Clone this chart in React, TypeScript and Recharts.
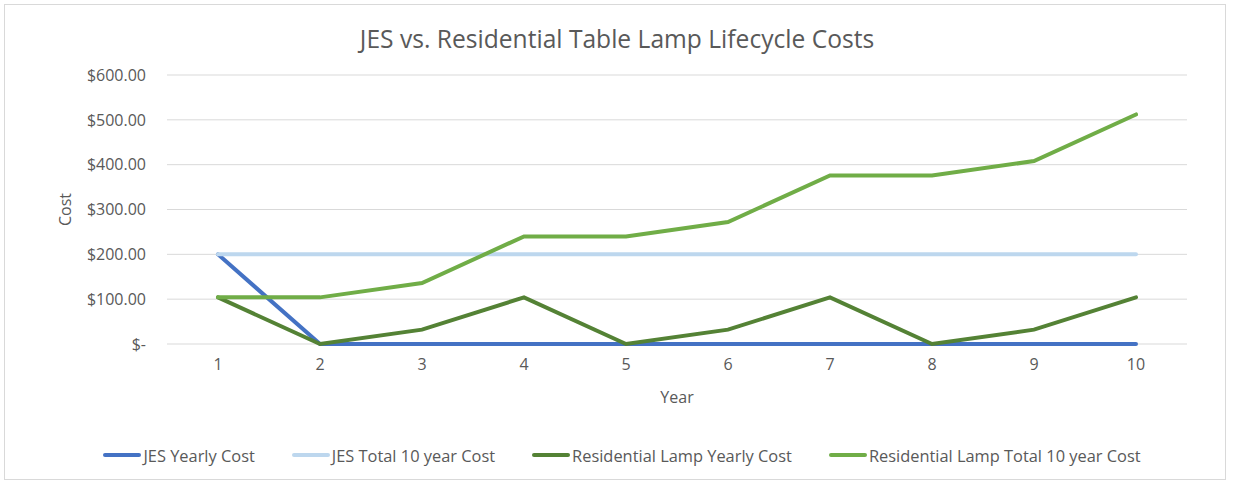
import React from 'react';
import {
  LineChart,
  Line,
  XAxis,
  YAxis,
  CartesianGrid,
  Legend,
} from 'recharts';

const years = ['1', '2', '3', '4', '5', '6', '7', '8', '9', '10'];
const jesYearly = [200, 0, 0, 0, 0, 0, 0, 0, 0, 0];
const jesTotal = [200, 200, 200, 200, 200, 200, 200, 200, 200, 200];
const lampYearly = [104, 0, 32, 104, 0, 32, 104, 0, 32, 104];
const lampTotal = [104, 104, 136, 240, 240, 272, 376, 376, 408, 512];
const yTicks = [0, 100, 200, 300, 400, 500, 600];

const series = [
  { key: 'jesYearly', name: 'JES Yearly Cost', color: '#4472C4' },
  { key: 'jesTotal', name: 'JES Total 10 year Cost', color: '#BDD7EE' },
  { key: 'lampYearly', name: 'Residential Lamp Yearly Cost', color: '#548235' },
  { key: 'lampTotal', name: 'Residential Lamp Total 10 year Cost', color: '#70AD47' },
];

const data = years.map((year, i) => ({
  year,
  jesYearly: jesYearly[i],
  jesTotal: jesTotal[i],
  lampYearly: lampYearly[i],
  lampTotal: lampTotal[i],
}));

const FONT = '"Open Sans", sans-serif';
const TEXT = '#595959';

const formatCost = (v: number) => (v === 0 ? '$-' : `$${v.toFixed(2)}`);

const LegendRow = () => (
  <div
    style={{
      display: 'flex',
      justifyContent: 'center',
      gap: 37,
      fontFamily: FONT,
      fontSize: 16.4,
      color: TEXT,
      height: 30,
      boxSizing: 'border-box',
      paddingBottom: 6,
      alignItems: 'center',
    }}
  >
    {series.map((s) => (
      <div key={s.key} style={{ display: 'flex', alignItems: 'center' }}>
        <span
          style={{
            display: 'inline-block',
            width: 38,
            height: 4,
            borderRadius: 2,
            background: s.color,
            marginRight: 2,
          }}
        />
        {s.name}
      </div>
    ))}
  </div>
);

export default function App() {
  return (
    <div
      style={{
        position: 'absolute',
        left: 0,
        top: 0,
        width: 1234,
        height: 483,
        background: '#fff',
      }}
    >
      <div
        style={{
          position: 'absolute',
          left: 4,
          top: 4,
          width: 1220,
          height: 474,
          border: '1px solid #d9d9d9',
        }}
      />
      <div
        style={{
          position: 'absolute',
          left: 0,
          top: 22,
          width: 1234,
          textAlign: 'center',
          fontFamily: FONT,
          fontSize: 24.6,
          color: TEXT,
        }}
      >
        JES vs. Residential Table Lamp Lifecycle Costs
      </div>
      <div style={{ position: 'absolute', left: 0, top: 0 }}>
        <LineChart
          width={1234}
          height={483}
          data={data}
          margin={{ top: 75, right: 47, bottom: 10, left: 57 }}
        >
          <CartesianGrid vertical={false} stroke="#d9d9d9" />
          <XAxis
            dataKey="year"
            padding={{ left: 51, right: 51 }}
            axisLine={false}
            tickLine={false}
            tickSize={0}
            tickMargin={15}
            height={99}
            tick={{ fill: TEXT, fontSize: 16, fontFamily: FONT }}
            label={{
              value: 'Year',
              position: 'insideTop',
              offset: 48,
              style: { fill: TEXT, fontSize: 16, fontFamily: FONT },
            }}
          />
          <YAxis
            width={110}
            domain={[0, 600]}
            ticks={yTicks}
            tickFormatter={formatCost}
            axisLine={false}
            tickLine={false}
            tickSize={0}
            tickMargin={21}
            tick={{ fill: TEXT, fontSize: 16, fontFamily: FONT }}
            label={{
              value: 'Cost',
              angle: -90,
              position: 'insideLeft',
              offset: 8,
              style: { fill: TEXT, fontSize: 16, fontFamily: FONT, textAnchor: 'middle' },
            }}
          />
          <Legend verticalAlign="bottom" content={() => <LegendRow />} />
          {series.map((s) => (
            <Line
              key={s.key}
              type="linear"
              dataKey={s.key}
              name={s.name}
              stroke={s.color}
              strokeWidth={4}
              strokeLinecap="round"
              dot={false}
              activeDot={false}
              isAnimationActive={false}
            />
          ))}
        </LineChart>
      </div>
    </div>
  );
}
